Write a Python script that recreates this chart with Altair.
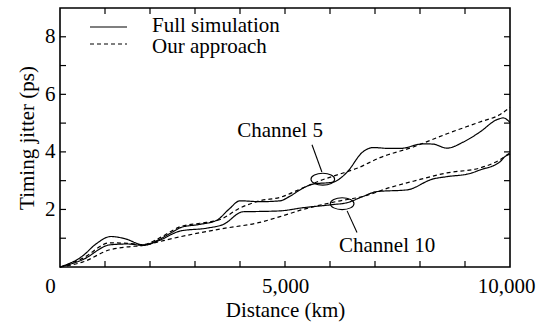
import altair as alt
import pandas as pd

# ---- data ----
ch5_full_x = [0, 500, 800, 1130, 1450, 1850, 2200, 2450, 2700, 3100, 3480, 3750, 4000, 4440, 4890, 5110, 5400, 5620, 6070, 6370, 6730, 6960, 7330, 7560, 8070, 8290, 8600, 8960, 9330, 9710, 9850, 10000]
ch5_full_y = [0, 0.38, 0.8, 1.06, 0.98, 0.77, 0.95, 1.17, 1.38, 1.48, 1.62, 2.0, 2.3, 2.27, 2.3, 2.46, 2.74, 2.88, 2.95, 3.28, 4.0, 4.15, 4.12, 4.12, 4.28, 4.27, 4.13, 4.34, 4.69, 5.12, 5.18, 5.02]

ch5_app_x = [0, 500, 1110, 1500, 1850, 2200, 2670, 3110, 3560, 4000, 4440, 4890, 5400, 5780, 6160, 6600, 7110, 7850, 8600, 9330, 9780, 10000]
ch5_app_y = [0, 0.3, 0.84, 0.82, 0.78, 1.0, 1.4, 1.52, 1.65, 2.05, 2.3, 2.42, 2.75, 3.0, 3.2, 3.43, 3.8, 4.17, 4.63, 5.04, 5.3, 5.55]

ch10_full_x = [0, 500, 1110, 1500, 1850, 2200, 2670, 3260, 3630, 4070, 4440, 4890, 5400, 6070, 6370, 6730, 7040, 7710, 8290, 8600, 9110, 9330, 9780, 9900, 10000]
ch10_full_y = [0, 0.25, 0.77, 0.8, 0.75, 0.92, 1.25, 1.35, 1.48, 1.92, 1.93, 1.95, 2.06, 2.17, 2.23, 2.45, 2.62, 2.68, 3.06, 3.14, 3.25, 3.37, 3.66, 3.85, 3.92]

ch10_app_x = [0, 500, 1110, 1500, 1850, 2200, 2670, 3560, 4440, 4890, 5400, 6160, 6730, 7330, 7850, 8600, 9330, 9780, 10000]
ch10_app_y = [0, 0.17, 0.6, 0.7, 0.75, 0.88, 1.05, 1.32, 1.55, 1.75, 2.0, 2.28, 2.45, 2.76, 2.98, 3.27, 3.44, 3.73, 3.97]

legend_labels = ["Full simulation", "Our approach"]

ann_labels = ["Channel 5", "Channel 10"]
ann_x = [4890, 7270]
ann_y = [4.72, 0.72]
ellipse_x = [5840, 6270]
ellipse_y = [3.05, 2.2]
leader_x = [5600, 6380]
leader_y = [4.25, 1.95]
leader_x2 = [5820, 6600]
leader_y2 = [3.3, 1.2]

x_minor = [1000, 2000, 3000, 4000, 5000, 6000, 7000, 8000, 9000]
y_minor = [1, 2, 3, 4, 5, 6, 7, 8]
x_labels = [0, 5000, 10000]
y_labels = [2, 4, 6, 8]

FONT = "Liberation Serif, Times New Roman, Times, serif"
FS = 21
W, H = 450, 259

rows = []
for name, xs_, ys_, dash in [("c5f", ch5_full_x, ch5_full_y, "solid"),
                             ("c5a", ch5_app_x, ch5_app_y, "dashed"),
                             ("c10f", ch10_full_x, ch10_full_y, "solid"),
                             ("c10a", ch10_app_x, ch10_app_y, "dashed")]:
    for x, y in zip(xs_, ys_):
        rows.append({"series": name, "x": x, "y": y, "dash": dash})
df = pd.DataFrame(rows)

xs = alt.Scale(domain=[0, 10000], nice=False, zero=False)
ys = alt.Scale(domain=[0, 9], nice=False, zero=False)

base_x = alt.X("x:Q", scale=xs,
               axis=alt.Axis(values=x_labels, format=",d", ticks=False, domain=False, grid=False,
                             labelFont=FONT, labelFontSize=FS, labelColor="black", labelPadding=8,
                             labelOffset={"expr": "datum.value == 0 ? -10 : (datum.value == 10000 ? -4 : 0)"},
                             labelOverlap=False, labelBound=False, labelFlush=False,
                             title="Distance (km)", titleFont=FONT, titleFontSize=FS,
                             titleFontWeight="normal", titleColor="black", titlePadding=3))
base_y = alt.Y("y:Q", scale=ys,
               axis=alt.Axis(values=y_labels, ticks=False, domain=False, grid=False,
                             labelFont=FONT, labelFontSize=FS, labelColor="black", labelPadding=5,
                             title="Timing jitter (ps)", titleFont=FONT, titleFontSize=FS,
                             titleFontWeight="normal", titleColor="black", titlePadding=7))

lines = alt.Chart(df).mark_line(interpolate="monotone", color="black", strokeWidth=1.2).encode(
    x=base_x, y=base_y, detail="series:N",
    strokeDash=alt.StrokeDash("dash:N", scale=alt.Scale(domain=["solid", "dashed"], range=[[1, 0], [4, 3]]), legend=None),
)

# ticks (inward, on all four sides)
xt = pd.DataFrame({"x": x_minor})
yt = pd.DataFrame({"y": y_minor})
tick_b = alt.Chart(xt).mark_rule(color="black", strokeWidth=1.2).encode(x=alt.X("x:Q", scale=xs), y=alt.value(H), y2=alt.value(H - 6))
tick_t = alt.Chart(xt).mark_rule(color="black", strokeWidth=1.2).encode(x=alt.X("x:Q", scale=xs), y=alt.value(0), y2=alt.value(6))
tick_l = alt.Chart(yt).mark_rule(color="black", strokeWidth=1.2).encode(y=alt.Y("y:Q", scale=ys), x=alt.value(0), x2=alt.value(6))
tick_r = alt.Chart(yt).mark_rule(color="black", strokeWidth=1.2).encode(y=alt.Y("y:Q", scale=ys), x=alt.value(W), x2=alt.value(W - 6))

# legend (manual, inside top-left)
leg_solid = alt.Chart(pd.DataFrame({"k": [0]})).mark_rule(color="black", strokeWidth=1.2).encode(
    x=alt.value(30), x2=alt.value(67), y=alt.value(19))
leg_dash = alt.Chart(pd.DataFrame({"k": [0]})).mark_rule(color="black", strokeWidth=1.2, strokeDash=[4, 3]).encode(
    x=alt.value(30), x2=alt.value(67), y=alt.value(36))
leg_text1 = alt.Chart(pd.DataFrame({"t": [legend_labels[0]]})).mark_text(
    font=FONT, fontSize=FS, align="left", baseline="middle", color="black").encode(
    text="t:N", x=alt.value(92), y=alt.value(18))
leg_text2 = alt.Chart(pd.DataFrame({"t": [legend_labels[1]]})).mark_text(
    font=FONT, fontSize=FS, align="left", baseline="middle", color="black").encode(
    text="t:N", x=alt.value(92), y=alt.value(39))

# annotations
ann_df = pd.DataFrame({"t": ann_labels, "x": ann_x, "y": ann_y})
ann_text = alt.Chart(ann_df).mark_text(font=FONT, fontSize=FS, align="center", baseline="middle", color="black").encode(
    x=alt.X("x:Q", scale=xs), y=alt.Y("y:Q", scale=ys), text="t:N")

ell_df = pd.DataFrame({"x": ellipse_x, "y": ellipse_y})
ellipse_path = "M -1 0 A 1 0.5 0 1 0 1 0 A 1 0.5 0 1 0 -1 0 Z"
ellipses = alt.Chart(ell_df).mark_point(shape=ellipse_path, size=560, filled=False, color="black", strokeWidth=1.1, opacity=1).encode(
    x=alt.X("x:Q", scale=xs), y=alt.Y("y:Q", scale=ys))

lead_df = pd.DataFrame({"x": leader_x, "y": leader_y, "x2": leader_x2, "y2": leader_y2})
leaders = alt.Chart(lead_df).mark_rule(color="black", strokeWidth=1.1).encode(
    x=alt.X("x:Q", scale=xs), y=alt.Y("y:Q", scale=ys), x2="x2:Q", y2="y2:Q")

chart = alt.layer(
    lines, tick_b, tick_t, tick_l, tick_r,
    leg_solid, leg_dash, leg_text1, leg_text2,
    ann_text, ellipses, leaders,
).properties(
    width=W, height=H,
    autosize=alt.AutoSizeParams(type="none"),
    padding={"left": 60, "top": 8, "right": 31, "bottom": 55},
    background="white",
).configure_view(stroke="black", strokeWidth=1.6)

chart.save("out.html", embed_options={"renderer": "svg", "actions": False})
